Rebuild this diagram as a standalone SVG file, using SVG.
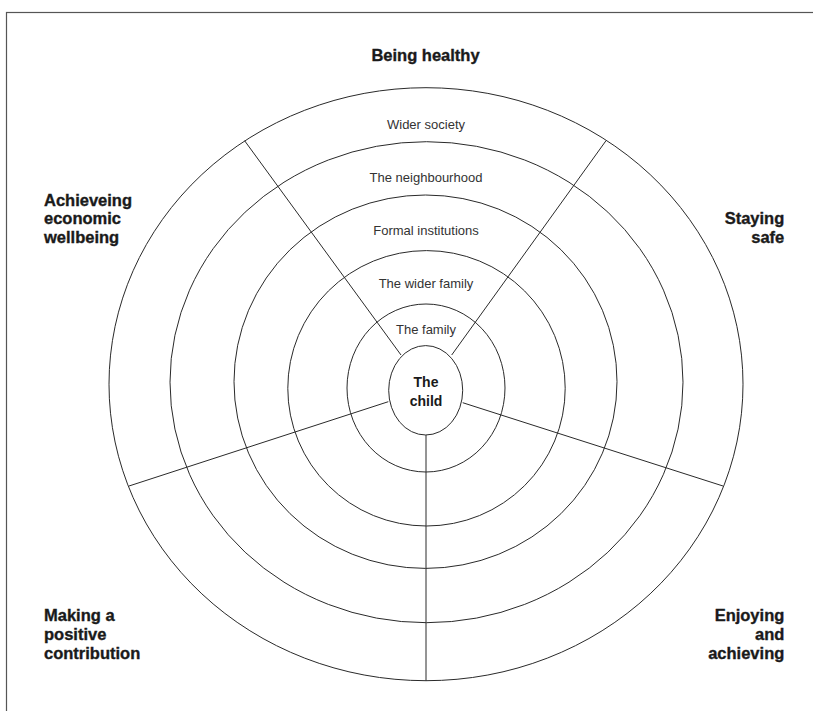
<svg xmlns="http://www.w3.org/2000/svg" width="813" height="711" viewBox="0 0 813 711">
  <style>
    .ring { fill: none; stroke: #2a2a2a; stroke-width: 1; }
    .spoke { stroke: #2a2a2a; stroke-width: 1; fill: none; }
    .layer { font-family: "Liberation Sans", Arial, sans-serif; font-size: 13px; fill: #333; text-anchor: middle; }
    .outcome { font-family: "Liberation Sans", Arial, sans-serif; font-size: 16.5px; font-weight: bold; fill: #1a1a1a; stroke: #1a1a1a; stroke-width: 0.35; }
    .core { font-family: "Liberation Sans", Arial, sans-serif; font-size: 14px; font-weight: bold; fill: #1a1a1a; text-anchor: middle; }
  </style>
  <rect width="813" height="711" fill="#ffffff"/>
  <!-- page frame: only top and left edges fall inside the view -->
  <rect x="6.5" y="12.5" width="830" height="730" fill="none" stroke="#555" stroke-width="1.2"/>

  <!-- concentric layers, outermost first -->
  <g id="wider-society">
    <ellipse class="ring" cx="426" cy="384.2" rx="317" ry="296.5"/>
    <text class="layer" x="426" y="129.3">Wider society</text>
  </g>
  <g id="neighbourhood">
    <ellipse class="ring" cx="426.5" cy="382.2" rx="256.5" ry="240.5"/>
    <text class="layer" x="426" y="182">The neighbourhood</text>
  </g>
  <g id="formal-institutions">
    <ellipse class="ring" cx="425.5" cy="381.7" rx="191.5" ry="186.7"/>
    <text class="layer" x="426" y="235">Formal institutions</text>
  </g>
  <g id="wider-family">
    <ellipse class="ring" cx="426.5" cy="388.3" rx="138.7" ry="137.7"/>
    <text class="layer" x="426" y="288">The wider family</text>
  </g>
  <g id="family">
    <ellipse class="ring" cx="426" cy="388" rx="79" ry="84"/>
    <text class="layer" x="426" y="334.3">The family</text>
  </g>

  <!-- dividers between the five outcome sectors -->
  <g id="connectors">
    <line class="spoke" x1="244.6" y1="140.7" x2="401" y2="355"/>
    <line class="spoke" x1="606" y1="140.7" x2="451.7" y2="355"/>
    <line class="spoke" x1="129" y1="486" x2="388.3" y2="401.7"/>
    <line class="spoke" x1="723" y1="486" x2="462.7" y2="402.7"/>
    <line class="spoke" x1="426" y1="435" x2="426" y2="680.7" stroke="#555" stroke-width="1.4"/>
  </g>

  <g id="child">
    <ellipse class="ring" cx="425.7" cy="390.3" rx="37" ry="44.7" fill="#fff"/>
    <text class="core" x="426" y="387.3">The</text>
    <text class="core" x="426" y="406">child</text>
  </g>

  <!-- outcome labels -->
  <g id="being-healthy">
    <text class="outcome" x="425.5" y="61" text-anchor="middle">Being healthy</text>
  </g>
  <g id="economic-wellbeing">
    <text class="outcome" x="44" y="205.7">Achieveing</text>
    <text class="outcome" x="44" y="224.4">economic</text>
    <text class="outcome" x="44" y="243.2">wellbeing</text>
  </g>
  <g id="staying-safe">
    <text class="outcome" x="784.3" y="224.3" text-anchor="end">Staying</text>
    <text class="outcome" x="784.3" y="242.8" text-anchor="end">safe</text>
  </g>
  <g id="positive-contribution">
    <text class="outcome" x="44" y="621">Making a</text>
    <text class="outcome" x="44" y="640">positive</text>
    <text class="outcome" x="44" y="658.8">contribution</text>
  </g>
  <g id="enjoying-achieving">
    <text class="outcome" x="784.3" y="621" text-anchor="end">Enjoying</text>
    <text class="outcome" x="784.3" y="640" text-anchor="end">and</text>
    <text class="outcome" x="784.3" y="658.8" text-anchor="end">achieving</text>
  </g>
</svg>
